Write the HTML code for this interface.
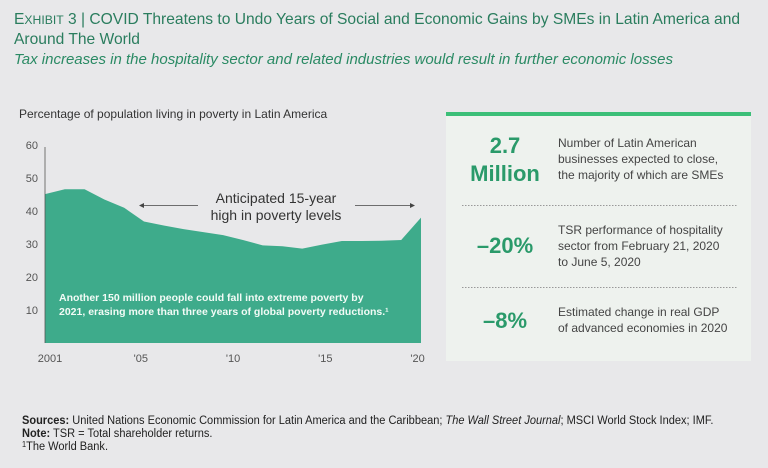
<!DOCTYPE html>
<html><head><meta charset="utf-8"><style>
body{margin:0;width:768px;height:463px;background:#e8e8ea;overflow:hidden;font-family:"Liberation Sans",sans-serif}
svg text{font-family:"Liberation Sans",sans-serif}
</style></head><body>
<svg width="768" height="463" xmlns="http://www.w3.org/2000/svg" id="chart">
<rect width="768" height="463" fill="#e8e8ea"/>
<text x="14" y="24" font-size="15.6" fill="#2a7d5e">E<tspan font-size="12.2">XHIBIT</tspan> 3 | COVID Threatens to Undo Years of Social and Economic Gains by SMEs in Latin America and</text>
<text x="14" y="44" font-size="15.6" fill="#2a7d5e">Around The World</text>
<text x="14" y="64" font-size="15" font-style="italic" fill="#2a8a64">Tax increases in the hospitality sector and related industries would result in further economic losses</text>
<text x="19" y="118" font-size="12" fill="#333">Percentage of population living in poverty in Latin America</text>
<g id="plot"></g>
<g>
<rect x="446" y="113" width="305" height="248" fill="#eef2ee"/>
<rect x="446" y="112" width="305" height="4" fill="#3cbf78"/>
<text x="505" y="153" font-size="22" font-weight="bold" fill="#2a9a6a" text-anchor="middle">2.7</text>
<text x="505" y="181" font-size="22" font-weight="bold" fill="#2a9a6a" text-anchor="middle">Million</text>
<text x="558" y="147" font-size="12" fill="#444">Number of Latin American</text>
<text x="558" y="163" font-size="12" fill="#444">businesses expected to close,</text>
<text x="558" y="179" font-size="12" fill="#444">the majority of which are SMEs</text>
<line x1="462" y1="205.5" x2="737" y2="205.5" stroke="#999" stroke-dasharray="1.5,1.5"/>
<text x="505" y="253" font-size="22" font-weight="bold" fill="#2a9a6a" text-anchor="middle">–20%</text>
<text x="558" y="234" font-size="12" fill="#444">TSR performance of hospitality</text>
<text x="558" y="250" font-size="12" fill="#444">sector from February 21, 2020</text>
<text x="558" y="266" font-size="12" fill="#444">to June 5, 2020</text>
<line x1="462" y1="287.5" x2="737" y2="287.5" stroke="#999" stroke-dasharray="1.5,1.5"/>
<text x="505" y="328" font-size="22" font-weight="bold" fill="#2a9a6a" text-anchor="middle">–8%</text>
<text x="558" y="316" font-size="12" fill="#444">Estimated change in real GDP</text>
<text x="558" y="332" font-size="12" fill="#444">of advanced economies in 2020</text>
</g>
<g font-size="12" fill="#222">
<text x="22" y="424" transform="translate(22,0) scale(0.92,1) translate(-22,0)"><tspan font-weight="bold">Sources:</tspan> United Nations Economic Commission for Latin America and the Caribbean; <tspan font-style="italic">The Wall Street Journal</tspan>; MSCI World Stock Index; IMF.</text>
<text x="22" y="437" transform="translate(22,0) scale(0.92,1) translate(-22,0)"><tspan font-weight="bold">Note:</tspan> TSR = Total shareholder returns.</text>
<text x="22" y="450" transform="translate(22,0) scale(0.92,1) translate(-22,0)"><tspan font-size="8" dy="-3">1</tspan><tspan dy="3">The World Bank.</tspan></text>
</g>
</svg>
<script>
const years=[2001,2002,2003,2004,2005,2006,2007,2008,2009,2010,2011,2012,2013,2014,2015,2016,2017,2018,2019,2020];
const poverty=[45.1,46.6,46.6,43.5,41.0,36.8,35.6,34.5,33.6,32.7,31.2,29.6,29.3,28.6,29.8,30.9,30.9,31.0,31.2,38.0];
const yTicks=[10,20,30,40,50,60];
const xTickYears=[2001,2005,2010,2015,2020];
const xTickLabels=["2001","'05","'10","'15","'20"];
const NS="http://www.w3.org/2000/svg";
const x=v=>45+(v-2001)*(421-45)/19;
const labelX=v=>v===2001?50:67+(v-2001)*18.45;
const y=v=>343-v*(343-145)/60;
const g=document.getElementById('plot');
function mk(t,a){const e=document.createElementNS(NS,t);for(const k in a)e.setAttribute(k,a[k]);g.appendChild(e);return e;}
let d=`M${x(years[0])},${y(0)}`;
years.forEach((yr,i)=>{d+=` L${x(yr)},${y(poverty[i])}`;});
d+=` L${x(years[years.length-1])},${y(0)} Z`;
const area=mk('path',{d:d,fill:'#3eab8b'});


const ax=mk('line',{x1:45,y1:y(0),x2:45,y2:y(60)+2,stroke:'#555','stroke-width':0.8});


yTicks.forEach(v=>{const t=mk('text',{x:38,y:y(v)+4,'font-size':11,fill:'#555','text-anchor':'end'});t.textContent=v;

});
xTickYears.forEach((v,i)=>{const t=mk('text',{x:labelX(v),y:362,'font-size':11,fill:'#555','text-anchor':'middle'});t.textContent=xTickLabels[i];

});
const a1=mk('text',{x:276,y:203,'font-size':14,fill:'#333','text-anchor':'middle'});a1.textContent='Anticipated 15-year';


const a2=mk('text',{x:276,y:220,'font-size':14,fill:'#333','text-anchor':'middle'});a2.textContent='high in poverty levels';
mk('line',{x1:142,y1:205.5,x2:198,y2:205.5,stroke:'#444','stroke-width':0.8});
mk('path',{d:'M139,205.5 L144,203 L144,208 Z',fill:'#444'});
mk('line',{x1:355,y1:205.5,x2:412,y2:205.5,stroke:'#444','stroke-width':0.8});
mk('path',{d:'M415,205.5 L410,203 L410,208 Z',fill:'#444'});
const n1=mk('text',{x:59,y:301,'font-size':10.5,'font-weight':'bold',fill:'#f2fbf6'});n1.textContent='Another 150 million people could fall into extreme poverty by';


const n2=mk('text',{x:59,y:315,'font-size':10.5,'font-weight':'bold',fill:'#f2fbf6'});n2.textContent='2021, erasing more than three years of global poverty reductions.¹';
</script>
</body></html>
